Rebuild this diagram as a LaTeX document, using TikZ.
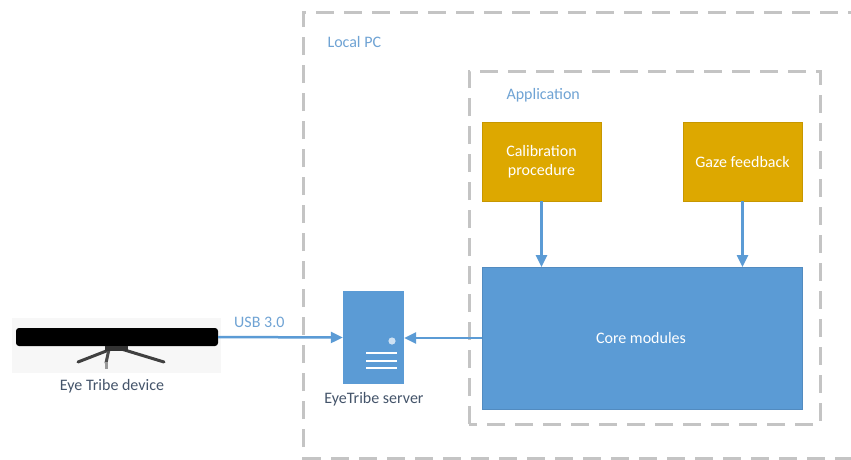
\documentclass[tikz,border=0pt]{standalone}
\usepackage{fontspec}
\setmainfont{Carlito}
\usetikzlibrary{arrows.meta}
\definecolor{gold}{HTML}{DDA800}
\definecolor{bblue}{HTML}{5B9BD5}
\definecolor{lblue}{HTML}{6FA3D4}
\definecolor{dgray}{HTML}{C4C4C4}
\definecolor{txt}{HTML}{44546A}
\tikzset{
  x=1pt, y=-1pt,
  every node/.style={font=\fontsize{16}{19.5}\selectfont},
  goldbox/.style={fill=gold, draw=gold!90!black, line width=0.5pt, text=white, align=center, inner sep=0pt},
  bluebox/.style={fill=bblue, draw=bblue!90!black, line width=0.5pt, text=white, align=center, inner sep=0pt},
  frame/.style={draw=dgray, line width=3pt, dash pattern=on 18pt off 10pt},
  conn/.style={draw=bblue, line width=2.5pt, -{Triangle[length=12pt,width=11pt]}},
  title/.style={text=lblue, anchor=west},
  caption/.style={text=txt}
}
\begin{document}
\begin{tikzpicture}
\useasboundingbox (0,0) rectangle (851,459);
\fill[white] (0,0) rectangle (851,459);
\begin{scope}
\clip (0,0) rectangle (851,459);
\draw[frame] (303,475) -- (303,12) -- (880,12);
\draw[frame] (303,458) -- (880,458);
\end{scope}
\draw[frame] (469,424) -- (469,71) -- (820,71) -- (820,424) -- cycle;
\node[title] (localpc) at (324,42) {Local PC};
\node[title] (app) at (503,95) {Application};
% boxes
\node[goldbox, minimum width=119pt, minimum height=79pt] (calib) at (541.5,161.5) {Calibration\\procedure};
\node[goldbox, minimum width=119pt, minimum height=79pt] (gaze) at (742.5,161.5) {Gaze feedback};
\node[bluebox, minimum width=320pt, minimum height=142pt, anchor=north west] (core) at (482,267) {};
\node[text=white] (coretxt) at (641,338) {Core modules};
% server
\node[fill=bblue, minimum width=61pt, minimum height=93pt, inner sep=0pt] (server) at (373.5,337.5) {};
\fill[white!70!bblue] (392,341) circle (3.6pt);
\foreach \yy in {353,360.5,368}{\draw[white, line width=2pt] (366,\yy) -- (397,\yy);}
\node[caption] (servertxt) at (374,399) {EyeTribe server};
% device photo
\fill[black!3] (12,318) rectangle (221,373);
\node[fill=black, rounded corners=3pt, minimum width=202pt, minimum height=18pt, inner sep=0pt] (device) at (117,337) {};
\draw[black!75, line width=3pt, line cap=round] (114,348) -- (78,362);
\draw[black!75, line width=3pt, line cap=round] (118,348) -- (164,362);
\draw[black!70, line width=3pt, line cap=round] (109,349) -- (106,363);
\fill[black!40] (104.5,362) rectangle (108,369);
\fill[black!80] (105,346) rectangle (128,351);
\node[caption] (devtxt) at (112,386) {Eye Tribe device};
% connectors
\draw[conn] (device.east) -- node[above=5pt, pos=0.33, text=lblue] (usb) {USB 3.0} (server.west);
\draw[conn] (core.west |- 0,338) coordinate (cw) -- (server.east |- cw);
\draw[conn] (calib.south) -- (calib.south |- core.north);
\draw[conn] (gaze.south) -- (gaze.south |- core.north);
\end{tikzpicture}
\end{document}
